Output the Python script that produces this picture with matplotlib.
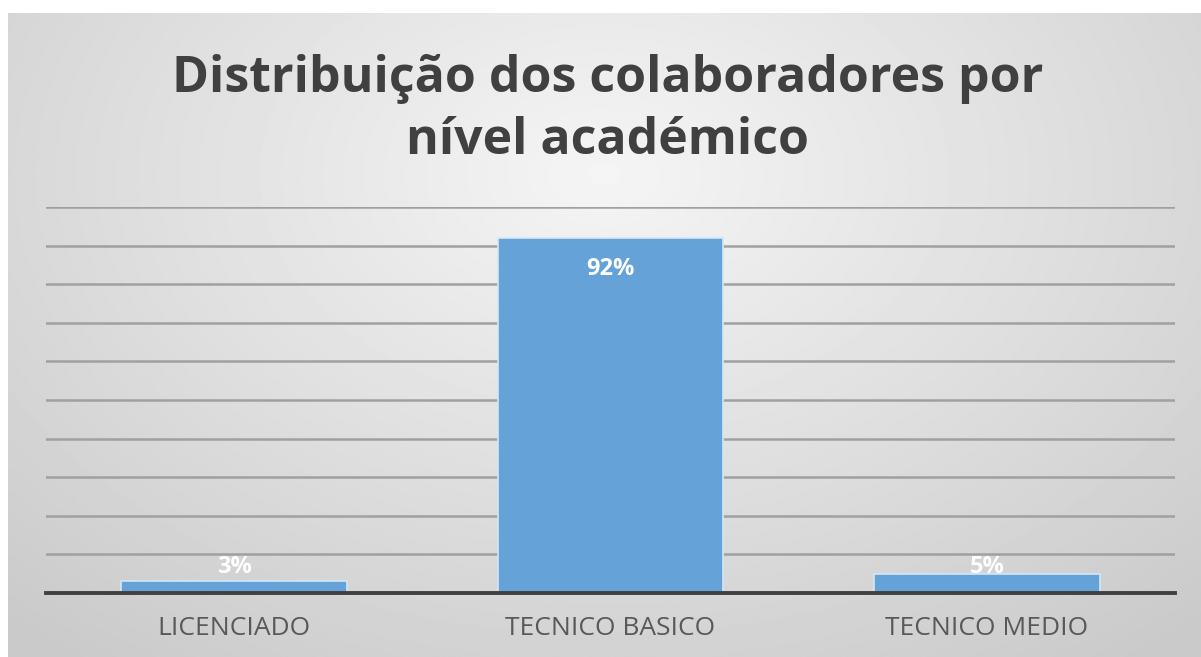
import numpy as np
import matplotlib.pyplot as plt

categories = ["LICENCIADO", "TECNICO BASICO", "TECNICO MEDIO"]
shares = [0.03, 0.92, 0.05]
share_labels = ["3%", "92%", "5%"]
title = "Distribuição dos colaboradores por\nnível académico"

plt.rcParams['font.family'] = ['Open Sans', 'DejaVu Sans']

fig = plt.figure(figsize=(12.01, 6.57), dpi=100)
fig.patch.set_facecolor('white')

# chart area background: light radial gradient, like the office chart style
bg = fig.add_axes([8 / 1201, 0, 1 - 8 / 1201, 1 - 13 / 657], zorder=0)
yy, xx = np.mgrid[0:1:300j, 0:1:600j]
r = np.sqrt(((xx - 0.5) / 0.75) ** 2 + ((yy - 0.25) / 0.95) ** 2)
shade = 0.96 - 0.17 * np.clip(r, 0, 1)
bg.imshow(shade, cmap='gray', vmin=0, vmax=1, aspect='auto', extent=[0, 1, 1, 0])
bg.axis('off')

ax = fig.add_axes([46 / 1201, 1 - 593 / 657, (1175 - 46) / 1201, 386 / 657], zorder=1)
ax.patch.set_alpha(0)

x = np.arange(len(categories))
ax.bar(x, shares, width=0.6, color='#64a2d8', edgecolor='#d4e6f6', linewidth=1.2, zorder=3)

for xi, v, lab in zip(x, shares, share_labels):
    ypos = max(v - 0.08, 0.067)
    ax.text(xi, ypos, lab, ha='center', va='center', color='white',
            fontsize=17, fontweight='bold', zorder=4)

ax.set_xlim(-0.5, len(categories) - 0.5)
ax.set_ylim(0, 1.0)
ax.set_yticks(np.arange(0.1, 1.01, 0.1))
ax.yaxis.grid(True, color='#a0a0a0', linewidth=1.8, zorder=1)
ax.tick_params(axis='y', left=False, labelleft=False)
ax.tick_params(axis='x', bottom=False, pad=13, labelsize=19, labelcolor='#595959')
ax.set_xticks(x)
ax.set_xticklabels(categories)

for s in ['top', 'right', 'left']:
    ax.spines[s].set_visible(False)
ax.spines['bottom'].set_color('#404040')
ax.spines['bottom'].set_linewidth(2.8)
ax.spines['bottom'].set_zorder(5)

fig.text(0.506, 1 - 110 / 657, title, ha='center', va='center', fontsize=36,
         fontweight='bold', color='#404040', linespacing=1.3)

fig.savefig('out.png', dpi=100)
